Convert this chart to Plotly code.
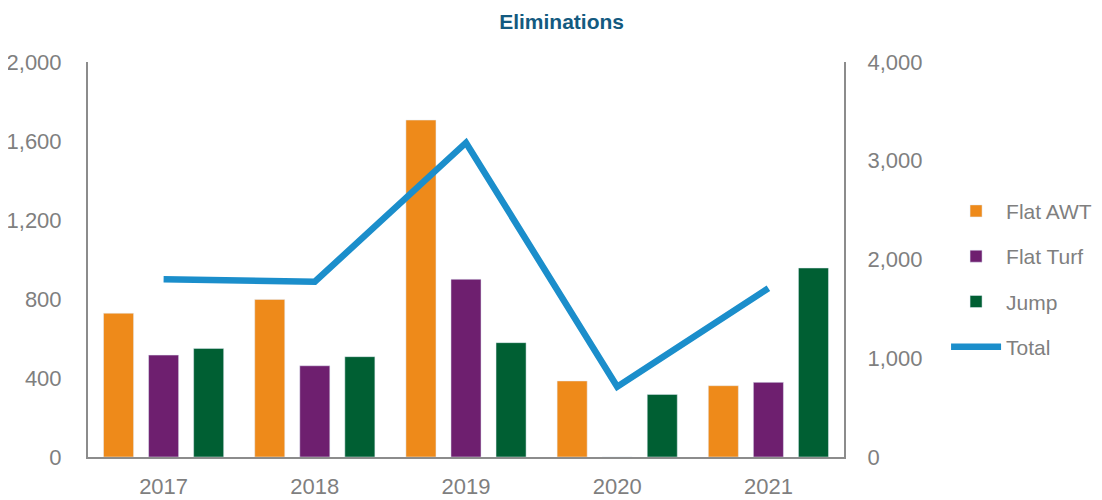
import plotly.graph_objects as go

years = ["2017", "2018", "2019", "2020", "2021"]
flat_awt = [728, 798, 1706, 385, 361]
flat_turf = [516, 462, 900, 0, 378]
jump = [550, 508, 579, 317, 957]
total = [1800, 1775, 3183, 712, 1708]

left_ticks = [0, 400, 800, 1200, 1600, 2000]
right_ticks = [0, 1000, 2000, 3000, 4000]

FONT = "Liberation Sans, Arial, sans-serif"
GRAY = "#7f7f7f"
AXIS = "#8c8c8c"

fig = go.Figure()
fig.add_trace(go.Bar(x=years, y=flat_awt, name="Flat AWT", marker_color="#EE8A1A",
                     legendgroup="a"))
fig.add_trace(go.Bar(x=years, y=flat_turf, name="Flat Turf", marker_color="#6E1F6F",
                     legendgroup="b"))
fig.add_trace(go.Bar(x=years, y=jump, name="Jump", marker_color="#005F33",
                     legendgroup="c"))
fig.add_trace(go.Scatter(x=years, y=total, name="Total", mode="lines",
                         line=dict(color="#1B8ECB", width=6.5), yaxis="y2",
                         legendgroup="d"))

fig.update_layout(
    width=1094, height=492,
    margin=dict(l=80, r=258, t=54, b=43, autoexpand=False),
    paper_bgcolor="white", plot_bgcolor="white",
    font=dict(family=FONT, size=22, color=GRAY),
    title=dict(text="<b>Eliminations</b>", x=0.506, xanchor="center", y=0.9715, yanchor="middle",
               font=dict(family=FONT, size=21, color="#135A80")),
    barmode="group", bargap=0.106, bargroupgap=0.333,
    showlegend=True,
    legend=dict(x=1.135, xanchor="left", y=0.45, yanchor="middle",
                font=dict(family=FONT, size=21, color=GRAY),
                tracegroupgap=15, itemwidth=50, bgcolor="rgba(0,0,0,0)"),
    xaxis=dict(showline=True, linecolor=AXIS, linewidth=2, ticks="", showgrid=False,
               automargin=False, ticklabelstandoff=9, tickfont=dict(size=22, color=GRAY)),
    yaxis=dict(range=[0, 2000], tickvals=left_ticks, tickformat=",d", showgrid=False,
               showline=True, linecolor=AXIS, linewidth=2, ticks="", zeroline=False,
               automargin=False, ticklabelstandoff=20, tickfont=dict(size=22, color=GRAY)),
    yaxis2=dict(range=[0, 4000], tickvals=right_ticks, tickformat=",d", overlaying="y",
                side="right", showgrid=False, showline=True, linecolor=AXIS, linewidth=2,
                ticks="", zeroline=False, automargin=False, ticklabelstandoff=17,
                tickfont=dict(size=22, color=GRAY)),
)

fig.write_html("out.html")
